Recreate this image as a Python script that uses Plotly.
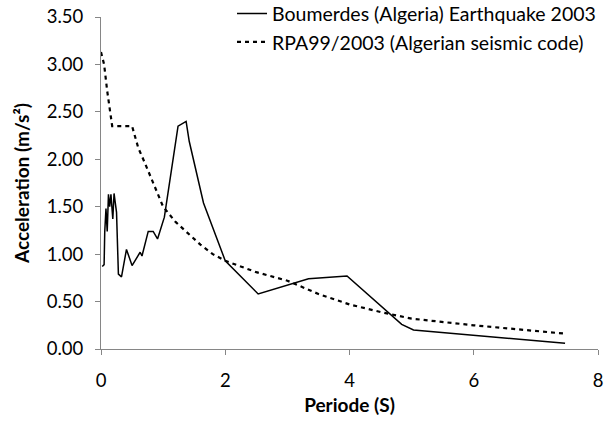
import plotly.graph_objects as go

# Boumerdes (Algeria) Earthquake 2003 response spectrum
eq_period = [0.02, 0.05, 0.06, 0.08, 0.10, 0.12, 0.14, 0.16, 0.19, 0.21, 0.25, 0.28,
             0.33, 0.41, 0.50, 0.63, 0.66, 0.76, 0.84, 0.91, 1.02, 1.24, 1.37, 1.42,
             1.65, 2.00, 2.53, 3.34, 3.96, 4.84, 5.03, 7.47]
eq_accel = [0.87, 0.89, 1.23, 1.48, 1.24, 1.63, 1.50, 1.63, 1.37, 1.64, 1.44, 0.79,
            0.76, 1.05, 0.88, 1.02, 0.98, 1.24, 1.24, 1.16, 1.39, 2.35, 2.40, 2.19,
            1.54, 0.93, 0.58, 0.74, 0.77, 0.26, 0.20, 0.06]

# RPA99/2003 design spectrum
rpa_period = [0.0, 0.05, 0.10, 0.15, 0.18, 0.50, 0.60, 0.70, 0.80, 0.90, 1.00, 1.20,
              1.40, 1.60, 1.80, 2.00, 2.50, 3.00, 3.50, 4.00, 4.50, 5.00, 6.00, 7.00, 7.50]
rpa_accel = [3.13, 3.00, 2.72, 2.46, 2.35, 2.35, 2.12, 1.97, 1.82, 1.66, 1.50, 1.34,
             1.22, 1.10, 1.00, 0.93, 0.81, 0.72, 0.58, 0.47, 0.39, 0.32, 0.25, 0.19, 0.16]

x_ticks = [0, 2, 4, 6, 8]
y_ticks = [0, 0.5, 1.0, 1.5, 2.0, 2.5, 3.0, 3.5]
y_labels = ["0.00", "0.50", "1.00", "1.50", "2.00", "2.50", "3.00", "3.50"]

FONT = "Lato"

fig = go.Figure()
fig.add_trace(go.Scatter(
    x=eq_period, y=eq_accel, mode="lines",
    name="Boumerdes (Algeria) Earthquake 2003",
    line=dict(color="black", width=1.5),
    legendgroup="a"))
fig.add_trace(go.Scatter(
    x=rpa_period, y=rpa_accel, mode="lines",
    name="RPA99/2003 (Algerian seismic code)",
    line=dict(color="black", width=2.2, dash="4px,4px"),
    legendgroup="b"))

axis_common = dict(
    showgrid=False, zeroline=False, showline=True, linecolor="#868686", linewidth=1,
    ticks="outside", ticklen=5, tickcolor="#868686",
    tickfont=dict(family=FONT, size=18.5, color="black"),
    ticklabeloverflow="allow",
)

fig.update_layout(
    width=611, height=423,
    margin=dict(l=101, r=13, t=17, b=74, autoexpand=False),
    paper_bgcolor="white", plot_bgcolor="white",
    font=dict(family=FONT, color="black"),
    xaxis=dict(range=[0, 8], tickvals=x_ticks, ticklabelstandoff=10,
               title=dict(text="<b>Periode (S)</b>", font=dict(family=FONT, size=19), standoff=8),
               **axis_common),
    yaxis=dict(range=[0, 3.5], tickvals=y_ticks, ticktext=y_labels, ticklabelstandoff=8,
               title=dict(text="<b>Acceleration (m/s²)</b>", font=dict(family=FONT, size=19), standoff=12),
               **axis_common),
    legend=dict(x=0.2636, y=1.068, xanchor="left", yanchor="top",
                font=dict(family=FONT, size=19.5), bgcolor="rgba(0,0,0,0)",
                traceorder="grouped", tracegroupgap=0),
    showlegend=True,
    hovermode=False,
)

# remove the default 8px page margin so the figure sits at the window's top-left
fig.write_html("out.html", config={"displayModeBar": False, "staticPlot": True},
               post_script="document.body.style.margin='0';")
